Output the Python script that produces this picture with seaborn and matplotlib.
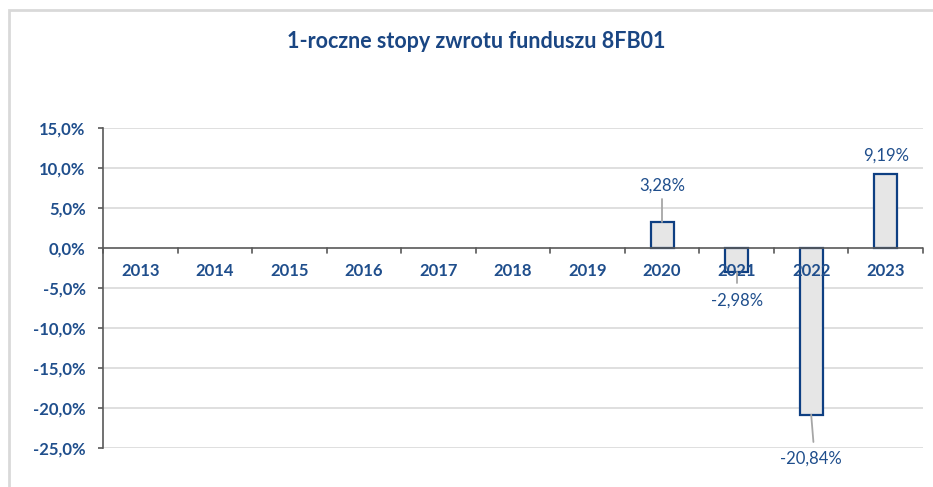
import numpy as np
import pandas as pd
import matplotlib
matplotlib.use("Agg")
import matplotlib.pyplot as plt
import seaborn as sns
from matplotlib.patches import Rectangle

years = ["2013", "2014", "2015", "2016", "2017", "2018", "2019", "2020", "2021", "2022", "2023"]
returns = [np.nan, np.nan, np.nan, np.nan, np.nan, np.nan, np.nan, 3.28, -2.98, -20.84, 9.19]
labels = ["", "", "", "", "", "", "", "3,28%", "-2,98%", "-20,84%", "9,19%"]
yticks = [15, 10, 5, 0, -5, -10, -15, -20, -25]
title = "1-roczne stopy zwrotu funduszu 8FB01"

sns.set_theme(style="white")
plt.rcParams['font.family'] = ['Lato', 'DejaVu Sans']

NAVY = "#1f4e8c"
EDGE = "#0e3f82"

df = pd.DataFrame({"year": years, "ret": returns})

W, H = 933, 487
fig = plt.figure(figsize=(W / 100, H / 100), dpi=100)
ax = fig.add_axes([103 / W, 1 - 448 / H, (923 - 103) / W, (448 - 128) / H])

sns.barplot(data=df, x="year", y="ret", order=years, ax=ax, color="#e6e6e6",
            edgecolor=EDGE, linewidth=1.6, width=0.31, saturation=1)

ax.set_ylim(-25, 15)
ax.set_xlim(-0.5, len(years) - 0.5)
ax.set_yticks(yticks)
ax.set_yticklabels([f"{v:.1f}%".replace(".", ",") for v in yticks],
                   fontsize=12, fontweight="bold", color=NAVY)
ax.set_xlabel("")
ax.set_ylabel("")
ax.set_xticks([])

for y in yticks:
    if y != 0:
        ax.axhline(y, color="#d9d9d9", lw=1.2, zorder=0)

for s in ["top", "right", "bottom"]:
    ax.spines[s].set_visible(False)
ax.spines["left"].set_color("#595959")
ax.spines["left"].set_linewidth(1.2)
ax.tick_params(axis="y", direction="out", length=3.5, width=1.2, color="#595959", pad=9, left=True)

# zero axis line with category-boundary ticks
ax.axhline(0, color="#595959", lw=1.2, zorder=3)
for i in range(len(years) + 1):
    ax.plot([i - 0.5, i - 0.5], [0, -0.65], color="#595959", lw=1.2, zorder=3, clip_on=False)

# year labels just below the zero line
for i, yr in enumerate(years):
    ax.text(i, -2.9, yr, ha="center", va="center", fontsize=12, fontweight="bold",
            color=NAVY, zorder=2)

# data labels with leader lines: (label y, leader end y)
ann = {
    7: (7.75, 6.1),
    8: (-6.6, -4.4),
    9: (-26.3, -24.25),
    10: (11.6, None),
}
for i, (ty, lead_end) in ann.items():
    ax.text(i, ty, labels[i], ha="center", va="center", fontsize=12, color=NAVY,
            clip_on=False, zorder=5)
    if lead_end is not None:
        ax.plot([i, i + (0.03 if i == 9 else 0)], [returns[i], lead_end], color="#a6a6a6", lw=1.3,
                zorder=4, clip_on=False)

fig.text(476 / W, 1 - 42 / H, title, ha="center", va="center", fontsize=15.5,
         fontweight="bold", color="#1a4683")

# outer frame
fig.patches.append(Rectangle((9 / W, -0.1), 1.2, 1 - 9.5 / H + 0.1, transform=fig.transFigure,
                             fill=False, edgecolor="#d9d9d9", lw=2))

fig.savefig("out.png", dpi=100)
